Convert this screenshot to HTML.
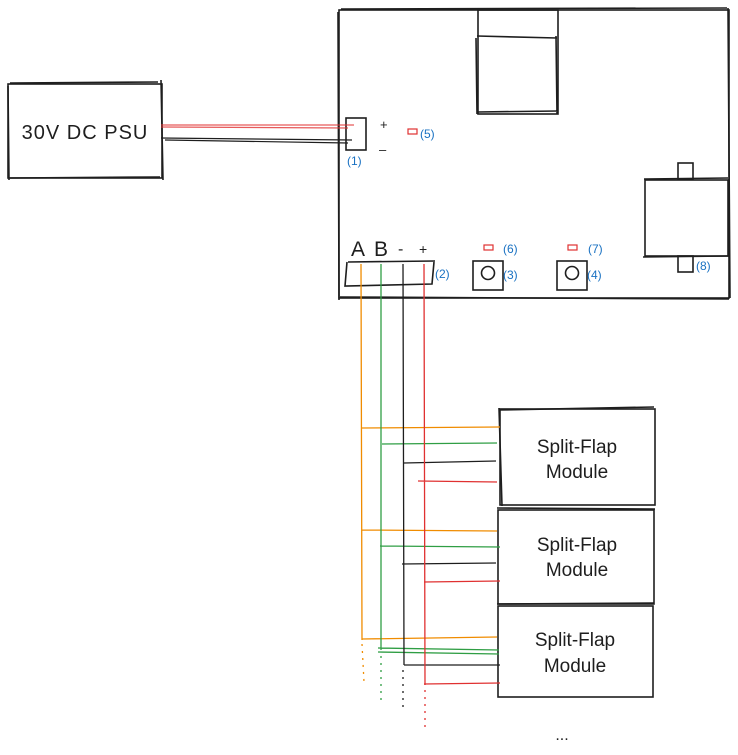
<!DOCTYPE html>
<html><head><meta charset="utf-8"><style>
html,body{margin:0;padding:0;background:#fff;}
svg{display:block;}
text{font-family:"Liberation Sans",sans-serif;}
</style></head><body>
<svg width="738" height="755" viewBox="0 0 738 755" xmlns="http://www.w3.org/2000/svg">
<g fill="none" stroke="#1e1e1e" stroke-width="1.6">
<rect x="8" y="84" width="154" height="94"/>
<path d="M10 83 L158 82 M8 86 L9 180 M161 80 L163 180 M10 178 L160 177"/>
<rect x="339" y="10" width="390" height="288"/>
<path d="M341 9 L727 8 M338 12 L339 300 M728 8 L730 298 M340 297 L729 299"/>
<rect x="478" y="10" width="80" height="104"/>
<path d="M477 36 L557 38 M478 112 L558 111 M476 38 L477 114 M556 36 L557 114"/>
<rect x="346" y="118" width="20" height="32"/>
<rect x="645" y="180" width="83" height="76"/>
<path d="M644 179 L728 178 M643 257 L729 256"/>
<rect x="678" y="163" width="15" height="16"/>
<rect x="678" y="256" width="15" height="16"/>
<path d="M348 262 L435 261 M347 262 L345 286 L432 284 L434 262"/>
<rect x="473" y="261" width="30" height="29"/>
<circle cx="488" cy="273" r="6.5"/>
<rect x="557" y="261" width="30" height="29"/>
<circle cx="572" cy="273" r="6.5"/>
<rect x="500" y="409" width="155" height="96"/>
<path d="M499 410 L654 407 M499 408 L502 506"/>
<rect x="498" y="510" width="156" height="94"/>
<path d="M497 508 L655 509"/>
<rect x="498" y="606" width="155" height="91"/>
<path d="M497 604 L654 603"/>
</g>
<g fill="none" stroke-width="1.2">
<path d="M161 125 L354 125 M161 127 L348 128" stroke="#e03131" opacity="0.8"/>
<path d="M161 138 L352 140 M165 140 L348 143" stroke="#1e1e1e"/>
</g>
<g fill="none" stroke="#e03131" stroke-width="1.2">
<rect x="408" y="129" width="9" height="5"/>
<rect x="484" y="245" width="9" height="5"/>
<rect x="568" y="245" width="9" height="5"/>
</g>
<g fill="none" stroke-width="1.3">
<g stroke="#f08c00">
<path d="M361 264 L362 640 M362 428 L500 427 M362 530 L497 531 M362 639 L497 637"/>
<path d="M362 644 L364 682" stroke-dasharray="2 5"/>
</g>
<g stroke="#2f9e44">
<path d="M381 264 L381 650 M382 444 L497 443 M380 546 L500 547 M378 648 L499 650 M378 652 L499 654"/>
<path d="M381 656 L381 700" stroke-dasharray="2 5"/>
</g>
<g stroke="#1e1e1e">
<path d="M403 264 L404 665 M404 463 L496 461 M402 564 L496 563 M404 665 L500 665"/>
<path d="M403 670 L403 710" stroke-dasharray="2 5"/>
</g>
<g stroke="#e03131">
<path d="M424 264 L425 685 M418 481 L497 482 M424 582 L500 581 M424 684 L500 683"/>
<path d="M425 690 L425 730" stroke-dasharray="2 5"/>
</g>
</g>
<g fill="#1e1e1e">
<text x="85" y="139" font-size="20" text-anchor="middle" letter-spacing="1">30V DC PSU</text>
<text x="380" y="129" font-size="13">+</text>
<text x="379" y="154" font-size="13">–</text>
<text x="351" y="256" font-size="21">A</text>
<text x="374" y="256" font-size="21">B</text>
<text x="398" y="254" font-size="16">-</text>
<text x="419" y="254" font-size="14">+</text>
<text x="577" y="453" font-size="19" text-anchor="middle">Split-Flap</text>
<text x="577" y="478" font-size="19" text-anchor="middle">Module</text>
<text x="577" y="551" font-size="19" text-anchor="middle">Split-Flap</text>
<text x="577" y="576" font-size="19" text-anchor="middle">Module</text>
<text x="575" y="646" font-size="19" text-anchor="middle">Split-Flap</text>
<text x="575" y="672" font-size="19" text-anchor="middle">Module</text>
<text x="562" y="740" font-size="16" text-anchor="middle">...</text>
</g>
<g fill="#1971c2" font-size="12">
<text x="347" y="165">(1)</text>
<text x="420" y="138">(5)</text>
<text x="435" y="278">(2)</text>
<text x="503" y="279">(3)</text>
<text x="587" y="279">(4)</text>
<text x="503" y="253">(6)</text>
<text x="588" y="253">(7)</text>
<text x="696" y="270">(8)</text>
</g>
</svg>
</body></html>
